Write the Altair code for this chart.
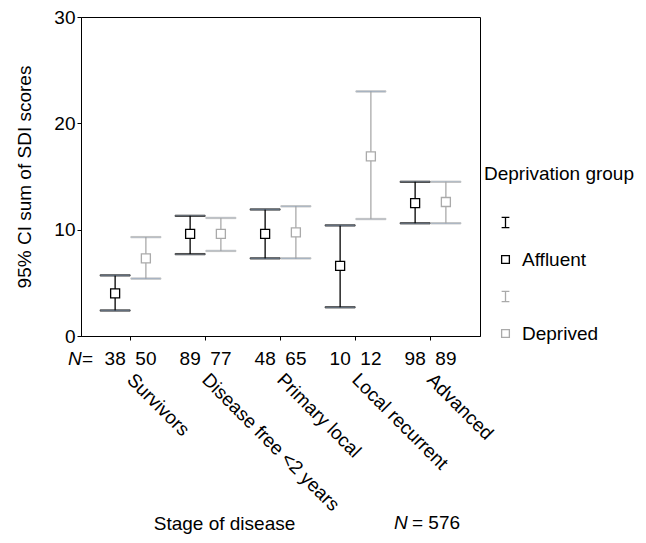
import altair as alt
import pandas as pd

stages = ["Survivors", "Disease free <2 years", "Primary local", "Local recurrent", "Advanced"]
groups = ["Affluent", "Deprived"]
aff_mean = [4.0, 9.6, 9.6, 6.6, 12.5]
aff_low = [2.4, 7.7, 7.3, 2.7, 10.6]
aff_high = [5.7, 11.3, 11.9, 10.4, 14.5]
dep_mean = [7.3, 9.6, 9.75, 16.9, 12.6]
dep_low = [5.4, 8.0, 7.3, 11.0, 10.6]
dep_high = [9.3, 11.1, 12.2, 23.0, 14.5]
aff_n = [38, 89, 48, 10, 98]
dep_n = [50, 77, 65, 12, 89]
total_n = 576

rows = []
for i, s in enumerate(stages):
    rows.append(dict(stage=s, group="Affluent", mean=aff_mean[i], low=aff_low[i], high=aff_high[i], n=aff_n[i]))
    rows.append(dict(stage=s, group="Deprived", mean=dep_mean[i], low=dep_low[i], high=dep_high[i], n=dep_n[i]))
df = pd.DataFrame(rows)

W, H = 399, 319
FONT = "Liberation Sans"
FS = 19
BLACK = "#000000"
GRAY = "#aaaaaa"
IBEAM = "M-1,-1.3H1M0,-1.3V1.3M-1,1.3H1"

legend_domain = ["bar_Affluent", "Affluent", "bar_Deprived", "Deprived"]

base = alt.Chart(df)

x_enc = alt.X(
    "stage:N",
    sort=stages,
    scale=alt.Scale(paddingInner=0.18, paddingOuter=0.25),
    axis=alt.Axis(
        labelAngle=45, labelAlign="left", labelBaseline="top", labelPadding=30,
        labelOffset=6,
        labelFontSize=FS, labelLimit=0, tickSize=4, grid=False,
        domainColor=BLACK, tickColor=BLACK, labelColor=BLACK,
        title="Stage of disease", titleFontSize=FS, titleFontWeight="normal",
        titleX=143, titleY=187, titleAlign="center", titleBaseline="middle",
        titleColor=BLACK,
    ),
)
xo_enc = alt.XOffset("group:N", sort=groups, scale=alt.Scale(paddingInner=0, paddingOuter=0))
y_scale = alt.Scale(domain=[0, 30], nice=False)
y_axis = alt.Axis(
    values=[0, 10, 20, 30], title="95% CI sum of SDI scores", titleFontSize=FS,
    titleFontWeight="normal", titleColor=BLACK, labelFontSize=FS, labelColor=BLACK,
    tickSize=4, grid=False, domainColor=BLACK, tickColor=BLACK, titlePadding=19,
)
stroke_enc = alt.Stroke("group:N", scale=alt.Scale(domain=groups, range=[BLACK, GRAY]), legend=None)

rules = base.mark_rule(strokeWidth=1.3).encode(
    x=x_enc, xOffset=xo_enc,
    y=alt.Y("low:Q", scale=y_scale, axis=y_axis),
    y2="high:Q",
    stroke=stroke_enc,
)
caps_low = base.mark_tick(size=30, thickness=1.3).encode(
    x=x_enc, xOffset=xo_enc, y=alt.Y("low:Q", scale=y_scale), stroke=stroke_enc,
)
caps_high = base.mark_tick(size=30, thickness=1.3).encode(
    x=x_enc, xOffset=xo_enc, y=alt.Y("high:Q", scale=y_scale), stroke=stroke_enc,
)
points = base.mark_point(shape="square", filled=False, fill="white", fillOpacity=1,
                         size=81, strokeWidth=1.3, opacity=1).encode(
    x=x_enc, xOffset=xo_enc,
    y=alt.Y("mean:Q", scale=y_scale),
    color=alt.Color(
        "group:N",
        scale=alt.Scale(domain=legend_domain, range=[BLACK, BLACK, GRAY, GRAY]),
        legend=alt.Legend(
            title="Deprivation group", orient="none", legendX=403, legendY=148,
            titleFontSize=FS, titleFontWeight="normal", titleColor=BLACK,
            labelFontSize=FS, labelColor=BLACK, symbolSize=60, symbolStrokeWidth=1.3,
            rowPadding=17, symbolOffset=12, labelOffset=7, titlePadding=29,
            labelExpr="indexof(datum.value, 'bar_') >= 0 ? '' : datum.label",
        ),
    ),
    shape=alt.Shape(
        "group:N",
        scale=alt.Scale(domain=legend_domain, range=[IBEAM, "square", IBEAM, "square"]),
    ),
)
ntext = base.mark_text(fontSize=FS, color=BLACK, baseline="middle").encode(
    x=x_enc, xOffset=xo_enc, y=alt.value(H + 23), text="n:Q",
)

one = alt.Chart(pd.DataFrame({"a": [0]}))
n_lab1 = one.mark_text(text="N", fontStyle="italic", fontSize=FS, align="left",
                       baseline="middle", color=BLACK).encode(x=alt.value(-13), y=alt.value(H + 23))
n_lab2 = one.mark_text(text="=", fontSize=FS, align="left", baseline="middle",
                       color=BLACK).encode(x=alt.value(1), y=alt.value(H + 23))
tot1 = one.mark_text(text="N", fontStyle="italic", fontSize=FS, align="left",
                     baseline="middle", color=BLACK).encode(x=alt.value(313), y=alt.value(H + 187))
tot2 = one.mark_text(text=f"= {total_n}", fontSize=FS, align="left", baseline="middle",
                     color=BLACK).encode(x=alt.value(331), y=alt.value(H + 187))

chart = alt.layer(rules, caps_low, caps_high, points, ntext, n_lab1, n_lab2, tot1, tot2).properties(
    width=W, height=H,
    autosize=alt.AutoSizeParams(type="none"),
    padding={"left": 73, "top": 9, "right": 155, "bottom": 198},
).configure(font=FONT).configure_view(stroke=BLACK, strokeWidth=1)

chart.save("out.html", embed_options={"renderer": "svg", "actions": False})
